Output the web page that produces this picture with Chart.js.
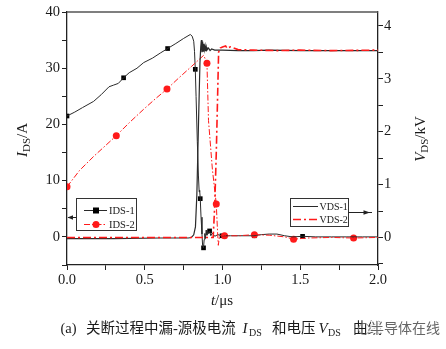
<!DOCTYPE html>
<html>
<head>
<meta charset="utf-8">
<script src="https://cdn.jsdelivr.net/npm/chart.js@4.4.0/dist/chart.umd.min.js"></script>
<style>
  html, body { margin: 0; padding: 0; background: #fff; }
  canvas { display: block; }
</style>
</head>
<body>
<canvas id="chart" width="446" height="349"></canvas>
<script>
// IDS-1 (A), black solid line
const ids1T = [0, 0.05, 0.1, 0.171, 0.22, 0.27, 0.3, 0.33, 0.364, 0.4, 0.45, 0.493, 0.55, 0.6, 0.647, 0.7, 0.75, 0.793, 0.805, 0.815, 0.82, 0.825, 0.83, 0.838, 0.845, 0.85, 0.853, 0.857, 0.862, 0.868, 0.872, 0.878, 0.882, 0.886, 0.89, 0.895, 0.9, 0.905, 0.91, 0.917, 0.925, 0.935, 0.95, 0.97, 0.997, 1.05, 1.1, 1.2, 1.25, 1.3, 1.35, 1.4, 1.45, 1.515, 1.6, 1.7, 1.8, 1.9, 2.0];
const ids1A = [21.5, 22.2, 23.0, 24.1, 25.3, 26.7, 27.0, 27.3, 28.3, 29.2, 30.0, 31.0, 31.8, 32.7, 33.5, 34.4, 35.3, 36.0, 35.7, 34.8, 33.0, 29.8, 25, 17, 11, 8, 8.3, 6.8, 3.5, 0.5, -1.5, -1.95, -0.5, 0.6, -0.3, 1.2, 0.3, 1.0, 0.6, 1.06, 0.2, 0.7, 0.1, 0.4, 0.2, 0.2, 0.2, 0.2, 0.4, 0.5, 0.5, 0.2, 0.0, 0.1, 0.0, 0.0, 0.0, 0.0, 0.0];
const ids1MarkT = [0, 0.364, 0.647, 0.825, 0.857, 0.878, 0.917, 0.997, 1.205, 1.515];
const ids1MarkA = [21.5, 28.3, 33.5, 29.8, 6.8, -1.95, 1.06, 0.2, 0.2, 0.1];

// IDS-2 (A), red dash-dot line
const ids2T = [0, 0.08, 0.171, 0.25, 0.317, 0.4, 0.493, 0.57, 0.643, 0.72, 0.8, 0.879, 0.9, 0.91, 0.935, 0.96, 0.968, 0.973, 0.98, 0.99, 1.013, 1.1, 1.205, 1.3, 1.4, 1.457, 1.55, 1.7, 1.843, 2.0];
const ids2A = [8.9, 11.8, 14.3, 16.3, 18.0, 20.3, 22.7, 24.6, 26.3, 28.3, 30.3, 32.3, 30.9, 20.7, 12, 5.85, 1.0, -1.5, 0.0, 0.3, 0.2, 0.2, 0.4, 0.3, 0.0, -0.4, -0.2, -0.1, -0.2, -0.1];
const ids2MarkT = [0, 0.317, 0.643, 0.9, 0.96, 1.013, 1.205, 1.457, 1.843];
const ids2MarkA = [8.9, 18.0, 26.3, 30.9, 5.85, 0.2, 0.4, -0.4, -0.2];

// VDS-1 (kV), black solid line
const vds1T = [0, 0.3, 0.6, 0.78, 0.8, 0.815, 0.826, 0.835, 0.846, 0.855, 0.86, 0.864, 0.868, 0.872, 0.876, 0.88, 0.884, 0.888, 0.892, 0.896, 0.9, 0.91, 0.92, 0.93, 0.95, 1.0, 1.1, 1.2, 1.3, 1.5, 1.7, 2.0];
const vds1V = [-0.02, -0.02, -0.01, -0.01, 0.0, 0.05, 0.2, 0.8, 2.2, 3.3, 3.6, 3.73, 3.5, 3.7, 3.52, 3.66, 3.55, 3.62, 3.52, 3.6, 3.54, 3.58, 3.53, 3.56, 3.54, 3.54, 3.53, 3.53, 3.54, 3.53, 3.53, 3.53];

// VDS-2 (kV), red dash-dot line
const vds2T = [0, 0.3, 0.6, 0.9, 0.94, 0.95, 0.96, 0.968, 0.975, 0.985, 1.0, 1.02, 1.03, 1.05, 1.1, 1.2, 1.35, 1.5, 1.7, 2.0];
const vds2V = [0.0, 0.0, 0.0, 0.0, 0.0, 0.6, 1.6, 2.6, 3.5, 3.58, 3.6, 3.62, 3.57, 3.6, 3.55, 3.54, 3.53, 3.54, 3.53, 3.54];

// axes
const xTicks = [0, 0.25, 0.5, 0.75, 1, 1.25, 1.5, 1.75, 2];
const yTicks = [-5, 0, 5, 10, 15, 20, 25, 30, 35, 40];
const y1Ticks = [-0.5, 0, 0.5, 1, 1.5, 2, 2.5, 3, 3.5, 4];

const BLACK = '#2a2a2a';
const RED = '#ff1a1a';
const SERIF = '"Liberation Serif", "DejaVu Serif", serif';

function pts(t, v) { return t.map((x, i) => ({ x: x, y: v[i] })); }

function rich(ctx, parts, x, y, align) {
  let w = 0;
  parts.forEach(p => { ctx.font = p.font; w += ctx.measureText(p.t).width; });
  let cx = align === 'center' ? x - w / 2 : x;
  parts.forEach(p => {
    ctx.font = p.font;
    ctx.fillText(p.t, cx, y + (p.dy || 0));
    cx += ctx.measureText(p.t).width;
  });
}

const decor = {
  id: 'decor',
  afterDraw(chart) {
    const ctx = chart.ctx;
    const a = chart.chartArea;
    ctx.save();
    // top frame line
    ctx.strokeStyle = '#555';
    ctx.lineWidth = 1.5;
    ctx.beginPath();
    ctx.moveTo(a.left, a.top);
    ctx.lineTo(a.right, a.top);
    ctx.stroke();

    ctx.fillStyle = '#1a1a1a';
    ctx.textBaseline = 'alphabetic';

    // left legend
    ctx.fillStyle = '#fff';
    ctx.fillRect(76.5, 198.5, 60, 32);
    ctx.strokeStyle = '#333';
    ctx.lineWidth = 1;
    ctx.strokeRect(76.5, 198.5, 60, 32);
    ctx.strokeStyle = BLACK;
    ctx.beginPath(); ctx.moveTo(84, 210.5); ctx.lineTo(107, 210.5); ctx.stroke();
    ctx.fillStyle = '#000';
    ctx.fillRect(93, 207.5, 6, 6);
    ctx.strokeStyle = RED;
    ctx.setLineDash([6, 2, 1.5, 2]);
    ctx.beginPath(); ctx.moveTo(84, 224.5); ctx.lineTo(107, 224.5); ctx.stroke();
    ctx.setLineDash([]);
    ctx.fillStyle = RED;
    ctx.beginPath(); ctx.arc(96, 224.5, 3.5, 0, Math.PI * 2); ctx.fill();
    ctx.fillStyle = '#1a1a1a';
    ctx.font = '10.5px ' + SERIF;
    ctx.fillText('IDS-1', 109, 214);
    ctx.fillText('IDS-2', 109, 228);
    // left arrow
    ctx.strokeStyle = '#222';
    ctx.beginPath(); ctx.moveTo(76.5, 217.5); ctx.lineTo(68, 217.5); ctx.stroke();
    ctx.fillStyle = '#222';
    ctx.beginPath(); ctx.moveTo(67.5, 217.5); ctx.lineTo(73, 215.3); ctx.lineTo(73, 219.7); ctx.closePath(); ctx.fill();

    // right legend
    ctx.fillStyle = '#fff';
    ctx.fillRect(290.5, 198.5, 58, 28);
    ctx.strokeStyle = '#333';
    ctx.strokeRect(290.5, 198.5, 58, 28);
    ctx.strokeStyle = BLACK;
    ctx.beginPath(); ctx.moveTo(293, 206.5); ctx.lineTo(318, 206.5); ctx.stroke();
    ctx.strokeStyle = RED;
    ctx.lineWidth = 1.5;
    ctx.setLineDash([8, 3, 2, 3]);
    ctx.beginPath(); ctx.moveTo(293, 219.5); ctx.lineTo(318, 219.5); ctx.stroke();
    ctx.setLineDash([]);
    ctx.lineWidth = 1;
    ctx.fillStyle = '#1a1a1a';
    ctx.font = '10px ' + SERIF;
    ctx.fillText('VDS-1', 319.5, 210);
    ctx.fillText('VDS-2', 319.5, 223);
    // right arrow
    ctx.strokeStyle = '#222';
    ctx.beginPath(); ctx.moveTo(348.5, 212.5); ctx.lineTo(372, 212.5); ctx.stroke();
    ctx.fillStyle = '#222';
    ctx.beginPath(); ctx.moveTo(370, 212.5); ctx.lineTo(363.5, 210.2); ctx.lineTo(363.5, 214.8); ctx.closePath(); ctx.fill();

    // axis titles
    ctx.fillStyle = '#1a1a1a';
    const big = '15px ' + SERIF, bigI = 'italic 15px ' + SERIF, sub = '11px ' + SERIF;
    ctx.save();
    ctx.translate(27, 140);
    ctx.rotate(-Math.PI / 2);
    rich(ctx, [{ t: 'I', font: bigI }, { t: 'DS', font: sub, dy: 3 }, { t: '/A', font: big }], 0, 0, 'center');
    ctx.restore();
    ctx.save();
    ctx.translate(425, 139);
    ctx.rotate(-Math.PI / 2);
    rich(ctx, [{ t: 'V', font: bigI }, { t: 'DS', font: sub, dy: 3 }, { t: '/kV', font: big }], 0, 0, 'center');
    ctx.restore();
    rich(ctx, [{ t: 't', font: bigI }, { t: '/μs', font: big }], 222, 305, 'center');

    // caption, segments placed as in the original
    const cap = '14.5px ' + SERIF + ', "Noto Sans CJK SC"';
    const capI = 'italic 15px ' + SERIF;
    const capS = '10px ' + SERIF;
    const base = 333;
    ctx.font = cap;
    ctx.fillText('(a)', 60.5, base);
    ctx.fillText('关断过程中漏-源极电流', 86, base);
    ctx.font = capI; ctx.fillText('I', 242.5, base);
    ctx.font = capS; ctx.fillText('DS', 249, base + 3);
    ctx.font = cap; ctx.fillText('和电压', 272, base);
    ctx.font = capI; ctx.fillText('V', 318.5, base);
    ctx.font = capS; ctx.fillText('DS', 328, base + 3);
    ctx.font = cap; ctx.fillText('曲线', 353, base);

    // watermark
    ctx.strokeStyle = '#888';
    ctx.lineWidth = 1;
    ctx.beginPath(); ctx.arc(364, 329, 5.5, 0.5, Math.PI * 2 - 0.3); ctx.stroke();
    ctx.font = '14px "Noto Sans CJK SC"';
    ctx.lineWidth = 2.5;
    ctx.strokeStyle = 'rgba(255,255,255,0.9)';
    ctx.strokeText('半导体在线', 370, 333);
    ctx.fillStyle = '#666';
    ctx.fillText('半导体在线', 370, 333);
    ctx.restore();
  }
};

const tickFont = { family: SERIF, size: 14.5 };

new Chart(document.getElementById('chart'), {
  type: 'line',
  data: {
    datasets: [
      { data: pts(vds2T, vds2V), yAxisID: 'y1', borderColor: RED, borderWidth: 1.6, borderDash: [8, 3, 2, 3], pointRadius: 0 },
      { data: pts(vds1T, vds1V), yAxisID: 'y1', borderColor: BLACK, borderWidth: 1.2, pointRadius: 0 },
      { data: pts(ids2T, ids2A), yAxisID: 'y', borderColor: RED, borderWidth: 1, borderDash: [6, 2, 1.5, 2], pointRadius: 0 },
      { data: pts(ids1T, ids1A), yAxisID: 'y', borderColor: BLACK, borderWidth: 1, pointRadius: 0 },
      { data: pts(ids2MarkT, ids2MarkA), yAxisID: 'y', showLine: false, pointStyle: 'circle', pointRadius: 3.5, backgroundColor: RED, borderColor: RED, borderWidth: 0 },
      { data: pts(ids1MarkT, ids1MarkA), yAxisID: 'y', showLine: false, pointStyle: 'rect', pointRadius: 3.3, backgroundColor: '#000', borderColor: '#000', borderWidth: 0 }
    ]
  },
  options: {
    responsive: false,
    animation: false,
    devicePixelRatio: 1,
    layout: { padding: { top: 12, left: 0, right: 0, bottom: 0 } },
    plugins: { legend: { display: false }, tooltip: { enabled: false } },
    elements: { line: { tension: 0 } },
    scales: {
      x: {
        type: 'linear', min: 0, max: 2,
        afterBuildTicks: s => { s.ticks = xTicks.map(v => ({ value: v })); },
        afterFit: s => { s.height = 84; },
        ticks: { font: tickFont, color: '#1a1a1a', padding: 1, maxRotation: 0, autoSkip: false,
          callback: v => (Math.round(v * 4) % 2 === 0 ? v.toFixed(1) : '') },
        grid: { drawOnChartArea: false, tickLength: 5, tickColor: '#222' },
        border: { color: '#222', width: 1.3 }
      },
      y: {
        position: 'left', min: -5, max: 40,
        afterBuildTicks: s => { s.ticks = yTicks.map(v => ({ value: v })); },
        afterFit: s => { s.width = 67; },
        ticks: { font: tickFont, color: '#1a1a1a', padding: 2, autoSkip: false,
          callback: v => (v % 10 === 0 ? String(v) : '') },
        grid: { drawOnChartArea: false, tickLength: 5, tickColor: '#222' },
        border: { color: '#222', width: 1.3 }
      },
      y1: {
        position: 'right', min: -0.52, max: 4.26,
        afterBuildTicks: s => { s.ticks = y1Ticks.map(v => ({ value: v })); },
        afterFit: s => { s.width = 68; },
        ticks: { font: tickFont, color: '#1a1a1a', padding: 1, autoSkip: false,
          callback: v => (v % 1 === 0 ? String(v) : '') },
        grid: { drawOnChartArea: false, tickLength: 5, tickColor: '#222' },
        border: { color: '#222', width: 1.3 }
      }
    }
  },
  plugins: [decor]
});
</script>
</body>
</html>
